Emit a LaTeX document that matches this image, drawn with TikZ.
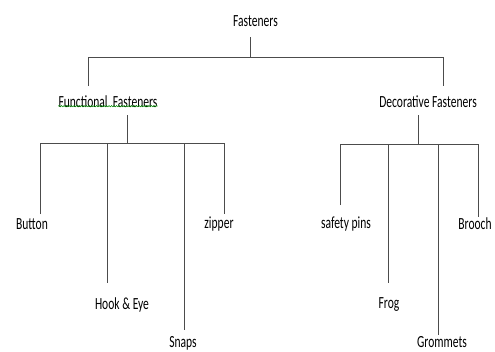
\documentclass[tikz,border=0pt]{standalone}
\usepackage{fontspec}
\usepackage{graphicx}
\setmainfont{Carlito}
\usetikzlibrary{decorations.pathmorphing}
\newcommand{\sqz}[1]{\scalebox{0.68}[1]{#1}}
\begin{document}
\begin{tikzpicture}[x=1pt,y=-1pt,
  lbl/.style={inner sep=0pt, text=black, font=\fontsize{17}{18}\selectfont},
  conn/.style={line width=0.85pt, draw=black!70},
  spell/.style={draw=green!55!black, line width=0.5pt, decorate,
    decoration={snake, amplitude=0.7pt, segment length=2.5pt}}]
\useasboundingbox (0,0) rectangle (495,351);
% labels
\node[lbl] (root) at (255.5,21) {\sqz{Fasteners}};
\node[lbl] (func) at (108,102) {\sqz{Functional\ \ Fasteners}};
\node[lbl] (deco) at (428,102) {\sqz{Decorative Fasteners}};
\node[lbl] (button) at (32,224) {\sqz{Button}};
\node[lbl] (hook) at (122,305) {\sqz{Hook \& Eye}};
\node[lbl] (snaps) at (183,343) {\sqz{Snaps}};
\node[lbl] (zipper) at (219,224) {\sqz{zipper}};
\node[lbl] (safety) at (346,224) {\sqz{safety pins}};
\node[lbl] (frog) at (389,305) {\sqz{Frog}};
\node[lbl] (grom) at (442,342.5) {\sqz{Grommets}};
\node[lbl] (brooch) at (475,224) {\sqz{Brooch}};
% spell-check underline
\draw[spell] ([yshift=2pt]func.south west) -- ([yshift=2pt]func.south east);
% junction coordinates
\coordinate (r1) at (250,37);
\coordinate (rbus) at (250,57);
\coordinate (fl) at (88,57);
\coordinate (fr) at (443,57);
\coordinate (fe) at (88,86);
\coordinate (de) at (443,86);
\coordinate (f1) at (127,115);
\coordinate (fbus) at (127,143);
\coordinate (d1) at (418,115);
\coordinate (dbus) at (418,144);
\coordinate (bE) at (40,214);
\coordinate (hE) at (107,283);
\coordinate (sE) at (184,330);
\coordinate (zE) at (224,214);
\coordinate (spE) at (340,205);
\coordinate (frE) at (388,283);
\coordinate (gE) at (438,335);
\coordinate (brE) at (478,217);
% connectors
\draw[conn] (r1) -- (rbus);
\draw[conn] (fe) -- (fl) -- (fr) -- (de);
\draw[conn] (f1) -- (fbus);
\draw[conn] (bE) -- (bE |- fbus) -- (zE |- fbus) -- (zE);
\draw[conn] (hE |- fbus) -- (hE);
\draw[conn] (sE |- fbus) -- (sE);
\draw[conn] (d1) -- (dbus);
\draw[conn] (spE) -- (spE |- dbus) -- (brE |- dbus) -- (brE);
\draw[conn] (frE |- dbus) -- (frE);
\draw[conn] (gE |- dbus) -- (gE);
\end{tikzpicture}
\end{document}
